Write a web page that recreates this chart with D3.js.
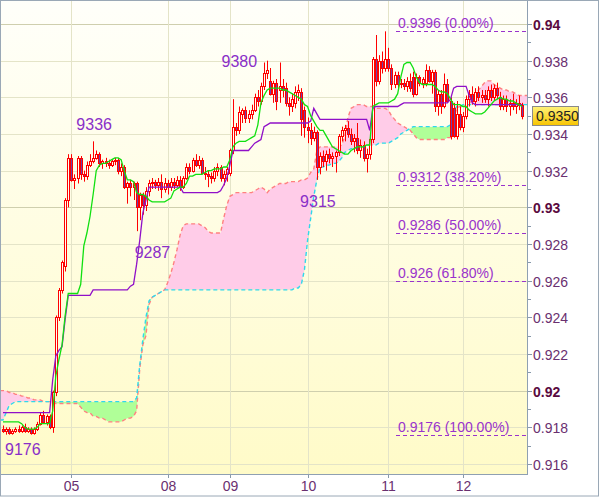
<!DOCTYPE html>
<html><head><meta charset="utf-8">
<script src="https://cdn.jsdelivr.net/npm/d3@7"></script>
<style>html,body{margin:0;padding:0;background:#fff;}svg{display:block;font-family:"Liberation Sans",Arial,sans-serif;}</style>
</head><body><svg id="c" width="600" height="497"></svg>
<script>
// ---------- DATA (prices in pips: 9336 = 0.9336) ----------
const ohlc = [
[9179,9181,9177,9178],[9178,9180,9176,9179],[9179,9180,9176,9177],[9177,9179,9176,9178],[9178,9180,9177,9179],
[9179,9181,9177,9178],[9178,9181,9177,9180],[9180,9182,9177,9178],[9178,9180,9177,9179],[9179,9180,9176,9177],
[9177,9180,9176,9179],[9179,9183,9178,9182],[9182,9188,9181,9187],[9187,9189,9182,9183],[9183,9187,9181,9186],
[9186,9187,9179,9180],[9180,9200,9177,9199],[9199,9241,9197,9240],[9240,9256,9238,9255],[9255,9271,9253,9270],
[9268,9305,9265,9304],[9304,9329,9300,9327],[9327,9329,9314,9315],[9315,9318,9310,9316],[9316,9328,9313,9327],
[9327,9328,9315,9318],[9318,9320,9314,9317],[9317,9325,9315,9323],[9323,9329,9322,9325],[9325,9336,9324,9327],
[9327,9331,9326,9329],[9329,9330,9322,9324],[9324,9326,9321,9325],[9325,9327,9322,9324],[9324,9326,9321,9323],
[9323,9326,9322,9325],[9325,9327,9323,9326],[9326,9327,9318,9320],[9320,9324,9317,9322],[9322,9323,9310,9311],
[9311,9314,9302,9313],[9313,9315,9306,9311],[9311,9314,9304,9313],[9313,9314,9287,9300],[9300,9308,9293,9307],
[9307,9308,9296,9301],[9301,9311,9298,9309],[9309,9315,9306,9313],[9313,9316,9310,9314],[9314,9315,9310,9312],
[9312,9316,9309,9314],[9314,9318,9305,9310],[9310,9316,9308,9313],[9313,9315,9307,9311],[9311,9316,9309,9314],
[9314,9316,9310,9312],[9312,9317,9311,9315],[9315,9317,9309,9311],[9311,9317,9310,9316],[9316,9324,9315,9322],
[9322,9324,9318,9320],[9320,9327,9319,9326],[9326,9329,9322,9323],[9323,9328,9321,9326],[9326,9327,9318,9319],
[9319,9322,9315,9318],[9318,9320,9311,9317],[9317,9319,9313,9316],[9316,9322,9314,9320],[9320,9324,9317,9322],
[9322,9323,9314,9316],[9316,9320,9312,9318],[9318,9322,9314,9321],[9319,9332,9317,9331],[9331,9359,9329,9344],
[9344,9346,9339,9342],[9342,9355,9340,9352],[9351,9354,9346,9353],[9353,9355,9346,9349],[9349,9353,9346,9351],
[9351,9356,9348,9353],[9353,9362,9352,9360],[9360,9364,9355,9358],[9358,9368,9356,9366],[9366,9379,9364,9373],
[9373,9380,9370,9375],[9369,9376,9361,9362],[9362,9369,9357,9368],[9368,9370,9353,9358],[9364,9379,9357,9366],
[9366,9370,9360,9364],[9365,9368,9355,9357],[9357,9360,9350,9355],[9355,9362,9352,9359],[9357,9366,9354,9363],
[9363,9367,9358,9364],[9363,9365,9339,9348],[9353,9355,9338,9344],[9344,9349,9335,9342],[9342,9346,9334,9338],
[9338,9344,9336,9341],[9341,9342,9315,9322],[9322,9330,9318,9328],[9328,9331,9322,9325],[9325,9331,9320,9329],
[9329,9332,9324,9327],[9327,9330,9322,9328],[9328,9331,9319,9330],[9330,9340,9328,9339],[9339,9344,9336,9342],
[9342,9345,9336,9343],[9343,9347,9338,9340],[9340,9343,9334,9336],[9336,9340,9330,9338],[9338,9346,9329,9331],
[9331,9337,9327,9334],[9334,9336,9325,9327],[9327,9332,9319,9329],[9329,9338,9326,9337],[9337,9382,9335,9381],
[9381,9394,9366,9369],[9369,9383,9367,9380],[9380,9385,9373,9376],[9376,9396,9374,9381],[9381,9387,9374,9376],
[9376,9378,9364,9367],[9367,9374,9365,9372],[9372,9374,9364,9367],[9367,9370,9365,9368],[9368,9370,9364,9366],
[9366,9371,9363,9369],[9369,9373,9363,9365],[9371,9374,9360,9362],[9362,9373,9361,9371],[9371,9372,9366,9368],
[9368,9371,9365,9370],[9368,9378,9366,9375],[9375,9377,9368,9369],[9369,9375,9362,9374],[9374,9375,9352,9355],
[9355,9364,9350,9362],[9362,9364,9351,9355],[9355,9373,9354,9367],[9367,9370,9357,9358],[9358,9360,9337,9339],
[9354,9357,9338,9339],[9339,9358,9337,9351],[9351,9355,9342,9344],[9344,9352,9341,9350],[9350,9361,9348,9359],
[9359,9364,9355,9362],[9362,9366,9356,9358],[9358,9365,9355,9363],[9363,9366,9358,9360],[9360,9364,9357,9361],
[9361,9364,9357,9359],[9359,9366,9355,9364],[9364,9367,9358,9360],[9360,9367,9358,9365],[9365,9368,9359,9361],
[9360,9363,9353,9355],[9355,9361,9353,9359],[9359,9361,9352,9355],[9355,9359,9350,9357],[9357,9362,9353,9355],
[9355,9359,9351,9357],[9357,9361,9353,9356],[9356,9357,9348,9350]
];
const tenkan = [
9183,9183,9183,9183,9183,9183,9182,9180,9179,9179,
9179,9180,9182,9182,9182,9182,9189,9208,9217,9225,
9241,9253,9253,9253,9253,9258,9279,9286,9295,9307,
9320,9323,9324,9324,9325,9326,9327,9327,9326,9320,
9315,9315,9314,9308,9307,9307,9306,9304,9303,9303,
9303,9303,9303,9304,9305,9309,9310,9311,9311,9313,
9317,9317,9318,9318,9318,9319,9320,9320,9321,9321,
9321,9322,9322,9326,9333,9335,9336,9336,9336,9337,
9338,9339,9345,9357,9361,9364,9365,9365,9365,9365,
9364,9364,9363,9362,9361,9360,9359,9356,9355,9350,
9347,9344,9342,9342,9339,9336,9333,9332,9331,9330,
9329,9329,9331,9332,9333,9333,9333,9334,9334,9355,
9356,9357,9357,9357,9357,9358,9359,9362,9371,9378,
9379,9379,9376,9371,9368,9367,9367,9367,9367,9366,
9364,9363,9363,9362,9359,9356,9356,9356,9355,9355,
9353,9352,9351,9351,9351,9352,9354,9356,9358,9359,
9360,9359,9359,9358,9358,9357,9356,9355
];
const kijun = [
9188,9188,9188,9188,9188,9188,9188,9188,9188,9188,
9188,9188,9188,9188,9188,9188,9206,9219,9222,9224,
9239,9252,9252,9252,9252,9252,9252,9252,9252,9255,
9255,9255,9255,9255,9255,9255,9255,9255,9255,9255,
9255,9257,9258,9269,9282,9297,9304,9311,9311,9311,
9311,9311,9311,9311,9311,9311,9311,9311,9308,9308,
9308,9308,9308,9308,9308,9308,9308,9308,9308,9308,
9309,9312,9316,9323,9331,9331,9331,9331,9331,9331,
9333,9335,9336,9337,9344,9345,9346,9346,9346,9346,
9346,9346,9346,9346,9346,9346,9346,9346,9346,9347,
9354,9351,9348,9348,9348,9348,9348,9348,9348,9348,
9348,9348,9348,9348,9348,9348,9348,9348,9342,9354,
9355,9355,9355,9355,9355,9355,9355,9355,9356,9357,
9357,9357,9357,9357,9357,9357,9357,9357,9357,9357,
9357,9357,9357,9357,9359,9365,9366,9366,9366,9366,
9361,9357,9356,9356,9356,9356,9356,9356,9356,9356,
9356,9356,9356,9356,9356,9356,9356,9356
];
const spanA = [
9200,9200,9199,9199,9198,9198,9197,9197,9196,9196,
9195,9195,9195,9194,9194,9194,9194,9193,9193,9193,
9193,9193,9193,9193,9193,9191,9189,9188,9188,9186,
9186,9185,9185,9184,9183,9183,9183,9183,9183,9184,
9185,9185,9186,9189,9212,9225,9230,9247,9251,9252,
9253,9254,9255,9259,9264,9270,9277,9285,9290,9291,
9291,9291,9291,9291,9290,9289,9287,9286,9286,9286,
9286,9294,9301,9306,9307,9308,9308,9308,9308,9308,
9308,9309,9310,9311,9310,9308,9310,9311,9312,9313,
9313,9313,9314,9314,9314,9314,9315,9315,9316,9319,
9321,9331,9333,9333,9333,9333,9333,9333,9333,9334,
9339,9349,9354,9355,9356,9356,9356,9355,9355,9355,
9354,9354,9354,9354,9353,9350,9348,9346,9345,9344,
9343,9342,9340,9338,9337,9337,9337,9337,9337,9337,
9337,9337,9337,9338,9338,9348,9354,9355,9355,9356,
9356,9359,9361,9364,9366,9368,9369,9369,9367,9366,
9365,9364,9364,9363,9363,9362,9361,9361
];
const spanB = [
9184,9188,9192,9193,9194,9194,9194,9194,9194,9194,
9194,9194,9194,9194,9194,9194,9194,9194,9194,9194,
9194,9194,9194,9194,9194,9194,9194,9194,9194,9194,
9194,9194,9194,9194,9194,9194,9194,9194,9194,9194,
9194,9194,9194,9196,9214,9228,9240,9249,9251,9252,
9253,9254,9255,9255,9255,9255,9255,9255,9255,9255,
9255,9255,9255,9255,9255,9255,9255,9255,9255,9255,
9255,9255,9255,9255,9255,9255,9255,9255,9255,9255,
9255,9255,9255,9255,9255,9255,9255,9255,9255,9255,
9255,9255,9255,9255,9256,9256,9258,9266,9282,9294,
9306,9315,9322,9322,9323,9323,9324,9324,9325,9327,
9330,9331,9332,9332,9333,9333,9333,9334,9334,9334,
9334,9335,9335,9335,9335,9336,9337,9338,9340,9341,
9342,9343,9344,9344,9344,9344,9344,9344,9344,9344,
9344,9344,9344,9344,9345,9353,9355,9355,9356,9356,
9356,9356,9356,9356,9356,9356,9356,9356,9356,9356,
9356,9356,9356,9356,9356,9356,9356,9356
];
const dayLabels = ["05","08","09","10","11","12"];
const dayIndex = [22,53,73,98,124,148];
const yTicks = [0.916,0.918,0.92,0.922,0.924,0.926,0.928,0.93,0.932,0.934,0.936,0.938,0.94];
const yTickLabels = ["0.916","0.918","0.92","0.922","0.924","0.926","0.928","0.93","0.932","0.934","0.936","0.938","0.94"];
const yBold = ["0.92","0.93","0.94"];
const yMinor = [0.917,0.919,0.921,0.923,0.925,0.927,0.929,0.931,0.933,0.935,0.937,0.939];
const fibValues = [0.9396,0.9312,0.9286,0.926,0.9176];
const fibLabels = ["0.9396 (0.00%)","0.9312 (38.20%)","0.9286 (50.00%)","0.926 (61.80%)","0.9176 (100.00%)"];
const markText = ["9336","9380","9287","9315","9176"];
const markIndex = [29,85,43,101,1];
const markValue = [0.9336,0.9380,0.9287,0.9315,0.9176];
const lastPrice = 0.9350;

// ---------- DRAW ----------
const P = v => v/10000;
const svg = d3.select("#c");
const PL=1, PT=1, PR=527, PB=474;
const x = d3.scaleLinear().domain([0,167]).range([3,522]);
const y = d3.scaleLinear().domain([0.916,0.94]).range([464,24]);

const defs = svg.append("defs");
const bg = defs.append("linearGradient").attr("id","bg").attr("x1",0).attr("y1",0).attr("x2",0).attr("y2",1);
bg.append("stop").attr("offset","0%").attr("stop-color","#fffffa");
bg.append("stop").attr("offset","100%").attr("stop-color","#fffbc8");
const pb = defs.append("linearGradient").attr("id","pb").attr("x1",0).attr("y1",0).attr("x2",0).attr("y2",1);
pb.append("stop").attr("offset","0%").attr("stop-color","#fff27a");
pb.append("stop").attr("offset","100%").attr("stop-color","#f7c400");
defs.append("clipPath").attr("id","plotclip").append("rect").attr("x",PL).attr("y",PT).attr("width",PR-PL).attr("height",PB-PT);

svg.append("rect").attr("x",0).attr("y",0).attr("width",600).attr("height",497).attr("fill","#fff");
svg.append("rect").attr("x",PL).attr("y",PT).attr("width",PR-PL).attr("height",PB-PT).attr("fill","url(#bg)");

const g = svg.append("g").attr("clip-path","url(#plotclip)");
// grid
g.selectAll("line.hg").data(yTicks).join("line")
  .attr("x1",PL).attr("x2",PR).attr("y1",d=>Math.round(y(d))+0.5).attr("y2",d=>Math.round(y(d))+0.5)
  .attr("stroke",(d,i)=>yBold.includes(yTickLabels[i])?"#cfcfae":"#e4e4c8").attr("stroke-width",1);
g.selectAll("line.vg").data(dayIndex).join("line")
  .attr("x1",d=>Math.round(x(d))+0.5).attr("x2",d=>Math.round(x(d))+0.5).attr("y1",PT).attr("y2",PB)
  .attr("stroke","#e4e4c8").attr("stroke-width",1);

// cloud
const idx = d3.range(ohlc.length);
const fillArea = d3.area().x(i=>x(i)).y0(i=>y(P(spanA[i]))).y1(i=>y(P(spanB[i])));
const aboveB = d3.area().x(i=>x(i)).y0(i=>y(P(spanB[i]))).y1(0);
const belowB = d3.area().x(i=>x(i)).y0(i=>y(P(spanB[i]))).y1(500);
const ext = [-1].concat(idx).concat([168]);
const xa = i=>x(Math.max(0,Math.min(167,i)));
defs.append("clipPath").attr("id","cA").append("path")
  .attr("d", d3.area().x(i=>i<0?0:(i>167?600:x(i))).y0(i=>y(P(spanB[Math.max(0,Math.min(167,i))]))).y1(0)(ext));
defs.append("clipPath").attr("id","cB").append("path")
  .attr("d", d3.area().x(i=>i<0?0:(i>167?600:x(i))).y0(i=>y(P(spanB[Math.max(0,Math.min(167,i))]))).y1(500)(ext));
const fillExt = d3.area().x(i=>i<0?0:(i>167?PR:x(i)))
  .y0(i=>y(P(spanA[Math.max(0,Math.min(167,i))]))).y1(i=>y(P(spanB[Math.max(0,Math.min(167,i))])));
g.append("g").attr("clip-path","url(#cA)").append("path").attr("d",fillExt(ext)).attr("fill","#ffcce8");
g.append("g").attr("clip-path","url(#cB)").append("path").attr("d",fillExt(ext)).attr("fill","#b0ff98");

const lineOf = arr => d3.line().x(i=>i<0?0:(i>167?PR:x(i))).y(i=>y(P(arr[Math.max(0,Math.min(167,i))])));
g.append("path").attr("d",lineOf(spanA)(ext)).attr("fill","none").attr("stroke","#ff8080").attr("stroke-width",1.4).attr("stroke-dasharray","4,3");
g.append("path").attr("d",lineOf(spanB)(ext)).attr("fill","none").attr("stroke","#30d8ec").attr("stroke-width",1.4).attr("stroke-dasharray","4,3");

// candles
const cg = g.append("g");
idx.forEach(i=>{
  const [o,h,l,c] = ohlc[i].map(P);
  const px = Math.round(x(i));
  cg.append("line").attr("x1",px+0.5).attr("x2",px+0.5).attr("y1",y(h)).attr("y2",y(l)).attr("stroke","#ff0000").attr("stroke-width",1);
  const top = Math.round(y(Math.max(o,c))), bot = Math.round(y(Math.min(o,c)));
  cg.append("rect").attr("x",px-0.5).attr("y",top+0.5).attr("width",2).attr("height",Math.max(bot-top,1))
    .attr("fill", c<o ? "#7040a8" : "#fffff4").attr("stroke","#ff0000").attr("stroke-width",1);
});

// tenkan/kijun
g.append("path").attr("d",lineOf(kijun)(idx)).attr("fill","none").attr("stroke","#9010c8").attr("stroke-width",1.3);
g.append("path").attr("d",lineOf(tenkan)(idx)).attr("fill","none").attr("stroke","#10e010").attr("stroke-width",1.3);

// fib
const fg = svg.append("g");
fibValues.forEach((v,k)=>{
  const yy = Math.round(y(v))+0.5;
  fg.append("line").attr("x1",396).attr("x2",PR).attr("y1",yy).attr("y2",yy).attr("stroke","#9933cc").attr("stroke-width",1).attr("stroke-dasharray","4,3");
  fg.append("text").attr("x",398).attr("y",yy-4).attr("font-size",14).attr("fill","#9933cc").text(fibLabels[k]);
});

// marks
const anchors = ["middle","end","start","middle","start"];
const dxs = [1,-10,-2,1,-1];
const dys = [-11,6,27,27,20];
markText.forEach((t,k)=>{
  const xx = markIndex[k]===1 ? 5 : x(markIndex[k])+dxs[k];
  svg.append("text").attr("x",xx).attr("y",y(markValue[k])+dys[k]).attr("text-anchor",anchors[k])
    .attr("font-size",16).attr("fill","#8a2fc8").text(t);
});

// axes
yTicks.forEach((v,k)=>{
  const yy = Math.round(y(v))+0.5;
  svg.append("line").attr("x1",PR).attr("x2",PR+5).attr("y1",yy).attr("y2",yy).attr("stroke","#8899aa");
  const b = yBold.includes(yTickLabels[k]);
  svg.append("text").attr("x",533).attr("y",yy+5).attr("font-size",14)
    .attr("font-weight",b?"bold":"normal").attr("fill",b?"#5a0a40":"#6a3070").text(yTickLabels[k]);
});
yMinor.forEach(v=>{
  const yy = Math.round(y(v))+0.5;
  svg.append("line").attr("x1",PR).attr("x2",PR+4).attr("y1",yy).attr("y2",yy).attr("stroke","#8899aa");
});
dayIndex.forEach((d,k)=>{
  const xx = Math.round(x(d))+0.5;
  svg.append("line").attr("x1",xx).attr("x2",xx).attr("y1",PB).attr("y2",PB+4).attr("stroke","#8899aa");
  svg.append("text").attr("x",xx).attr("y",491).attr("text-anchor","middle").attr("font-size",14).attr("fill","#6a3070").text(dayLabels[k]);
});

// price box
const py = y(lastPrice);
svg.append("rect").attr("x",532.5).attr("y",Math.round(py)-9.5).attr("width",46).attr("height",19)
  .attr("fill","url(#pb)").attr("stroke","#8a8a8a");
svg.append("text").attr("x",536).attr("y",Math.round(py)+5).attr("font-size",14).attr("fill","#222").text(lastPrice.toFixed(4));

// borders
svg.append("rect").attr("x",0.5).attr("y",0.5).attr("width",PR).attr("height",PB).attr("fill","none").attr("stroke","#8fa0b2").attr("stroke-width",1);
svg.append("rect").attr("x",0.5).attr("y",0.5).attr("width",598).attr("height",495.5).attr("fill","none").attr("stroke","#9aa8b6").attr("stroke-width",1);
</script></body></html>
